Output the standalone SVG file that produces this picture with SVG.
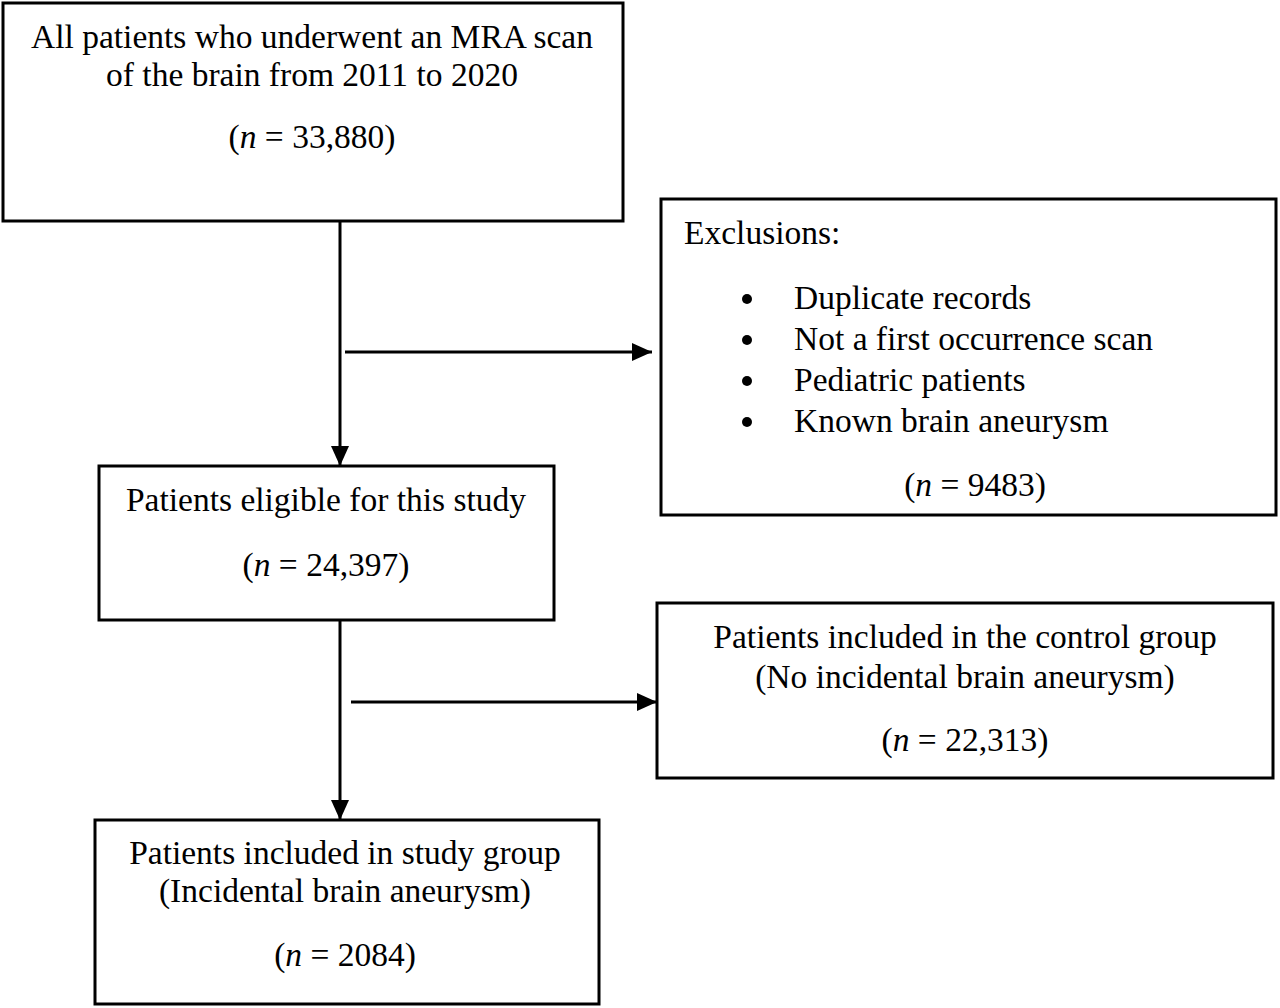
<svg xmlns="http://www.w3.org/2000/svg" width="1280" height="1008" viewBox="0 0 1280 1008">
<style>
.box{fill:#fff;stroke:#000;stroke-width:3}
text{font-family:"Liberation Serif","Times New Roman",serif;font-size:33.5px;fill:#000}
.c{text-anchor:middle}
.ln{stroke:#000;stroke-width:3;fill:none}
</style>
<defs>
<marker id="ah" markerWidth="20" markerHeight="18" refX="20" refY="9" orient="auto" markerUnits="userSpaceOnUse">
<path d="M0,0 L20,9 L0,18 Z" fill="#000"/>
</marker>
</defs>
<rect width="1280" height="1008" fill="#fff"/>
<g id="connectors">
<line class="ln" x1="340" y1="221" x2="340" y2="466" marker-end="url(#ah)"/>
<line class="ln" x1="345" y1="352" x2="652" y2="352" marker-end="url(#ah)"/>
<line class="ln" x1="340" y1="620" x2="340" y2="820" marker-end="url(#ah)"/>
<line class="ln" x1="351" y1="702" x2="657" y2="702" marker-end="url(#ah)"/>
</g>
<g id="n1">
<rect class="box" x="3" y="3" width="620" height="218"/>
<text class="c" x="312" y="48">All patients who underwent an MRA scan</text>
<text class="c" x="312" y="86">of the brain from 2011 to 2020</text>
<text class="c" x="312" y="148">(<tspan font-style="italic">n</tspan> = 33,880)</text>
</g>
<g id="n2">
<rect class="box" x="661" y="199" width="615" height="316"/>
<text x="684" y="244">Exclusions:</text>
<circle cx="747" cy="299" r="5"/>
<circle cx="747" cy="340" r="5"/>
<circle cx="747" cy="381" r="5"/>
<circle cx="747" cy="422" r="5"/>
<text x="794" y="309">Duplicate records</text>
<text x="794" y="350">Not a first occurrence scan</text>
<text x="794" y="391">Pediatric patients</text>
<text x="794" y="432">Known brain aneurysm</text>
<text class="c" x="975" y="496">(<tspan font-style="italic">n</tspan> = 9483)</text>
</g>
<g id="n3">
<rect class="box" x="99" y="466" width="455" height="154"/>
<text class="c" x="326" y="511">Patients eligible for this study</text>
<text class="c" x="326" y="576">(<tspan font-style="italic">n</tspan> = 24,397)</text>
</g>
<g id="n4">
<rect class="box" x="657" y="603" width="616" height="175"/>
<text class="c" x="965" y="648">Patients included in the control group</text>
<text class="c" x="965" y="688">(No incidental brain aneurysm)</text>
<text class="c" x="965" y="751">(<tspan font-style="italic">n</tspan> = 22,313)</text>
</g>
<g id="n5">
<rect class="box" x="95" y="820" width="504" height="184"/>
<text class="c" x="345" y="864">Patients included in study group</text>
<text class="c" x="345" y="902">(Incidental brain aneurysm)</text>
<text class="c" x="345" y="966">(<tspan font-style="italic">n</tspan> = 2084)</text>
</g>
</svg>
